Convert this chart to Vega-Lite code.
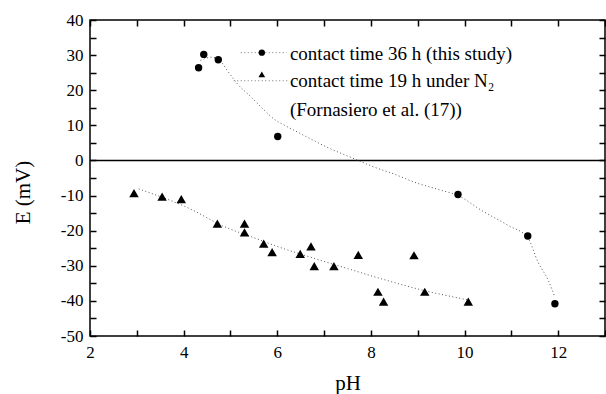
{
  "$schema": "https://vega.github.io/schema/vega-lite/v6.json",
  "width": 515,
  "height": 316,
  "autosize": {"type": "none"},
  "padding": {"left": 90, "top": 20, "right": 1, "bottom": 58},
  "background": "white",
  "config": {
    "view": {"stroke": "black", "strokeWidth": 1.5},
    "font": "Times New Roman",
    "axis": {
      "grid": false,
      "labelFont": "Times New Roman",
      "titleFont": "Times New Roman",
      "labelColor": "black",
      "titleColor": "black",
      "tickColor": "black",
      "tickWidth": 1.5,
      "domainColor": "black",
      "titleFontWeight": "normal"
    }
  },
  "datasets": {
    "zero": [{"E": 0}],
    "circles": [
      {"pH": 4.32, "E": 26.4},
      {"pH": 4.43, "E": 30.2},
      {"pH": 4.74, "E": 28.7},
      {"pH": 6.01, "E": 6.8},
      {"pH": 9.86, "E": -9.7},
      {"pH": 11.35, "E": -21.5},
      {"pH": 11.93, "E": -40.8}
    ],
    "triangles": [
      {"pH": 2.94, "E": -9.3},
      {"pH": 3.54, "E": -10.3},
      {"pH": 3.95, "E": -11.0},
      {"pH": 4.72, "E": -18.0},
      {"pH": 5.3, "E": -18.0},
      {"pH": 5.3, "E": -20.5},
      {"pH": 5.71, "E": -23.7},
      {"pH": 5.89, "E": -26.1},
      {"pH": 6.49, "E": -26.6},
      {"pH": 6.72, "E": -24.5},
      {"pH": 6.79, "E": -30.1},
      {"pH": 7.21, "E": -30.1},
      {"pH": 7.73, "E": -26.9},
      {"pH": 8.15, "E": -37.4},
      {"pH": 8.27, "E": -40.2},
      {"pH": 8.92, "E": -27.0},
      {"pH": 9.15, "E": -37.4},
      {"pH": 10.08, "E": -40.2}
    ],
    "fitC": [
      {"pH": 4.36, "E": 28.5},
      {"pH": 4.6, "E": 29.4},
      {"pH": 4.78, "E": 28.4},
      {"pH": 4.95, "E": 25.3},
      {"pH": 5.15, "E": 21.8},
      {"pH": 5.43, "E": 18.2},
      {"pH": 5.7, "E": 14.6},
      {"pH": 5.93, "E": 11.8},
      {"pH": 6.2, "E": 9.7},
      {"pH": 6.43, "E": 8.1},
      {"pH": 7.14, "E": 3.3},
      {"pH": 7.64, "E": 0.5},
      {"pH": 8.07, "E": -1.9},
      {"pH": 8.5, "E": -3.9},
      {"pH": 8.93, "E": -6.2},
      {"pH": 9.5, "E": -8.5},
      {"pH": 9.86, "E": -10.0},
      {"pH": 10.36, "E": -14.2},
      {"pH": 10.93, "E": -18.5},
      {"pH": 11.35, "E": -22.0},
      {"pH": 11.57, "E": -29.0},
      {"pH": 11.79, "E": -34.2},
      {"pH": 11.93, "E": -39.0}
    ],
    "fitT": [
      {"pH": 3.04, "E": -8.1},
      {"pH": 4.14, "E": -13.8},
      {"pH": 4.86, "E": -18.8},
      {"pH": 5.5, "E": -22.0},
      {"pH": 6.0, "E": -24.5},
      {"pH": 6.72, "E": -27.6},
      {"pH": 7.43, "E": -30.5},
      {"pH": 8.22, "E": -33.7},
      {"pH": 9.0, "E": -36.6},
      {"pH": 10.07, "E": -39.7}
    ],
    "legText": [
      {"label": "contact time 36 h (this study)", "pH": 6.27, "E": 30.4},
      {"label": "contact time 19 h under N₂", "pH": 6.27, "E": 22.5},
      {"label": "(Fornasiero et al. (17))", "pH": 6.27, "E": 14.4}
    ],
    "legLines": [
      {"a": 5.22, "b": 6.2, "E": 30.7},
      {"a": 5.07, "b": 6.22, "E": 22.7}
    ],
    "legC": [{"pH": 5.67, "E": 30.7}],
    "legT": [{"pH": 5.67, "E": 24.5}]
  },
  "resolve": {"axis": {"x": "independent", "y": "independent"}},
  "layer": [
    {
      "data": {"name": "zero"},
      "mark": {"type": "rule", "color": "black", "strokeWidth": 1.5},
      "encoding": {
        "y": {"field": "E", "type": "quantitative", "scale": {"domain": [-50, 40], "nice": false, "zero": false}, "axis": null}
      }
    },
    {
      "data": {"name": "fitT"},
      "mark": {"type": "line", "color": "#555", "strokeWidth": 1, "strokeDash": [1, 2.5], "interpolate": "monotone"},
      "encoding": {
        "x": {"field": "pH", "type": "quantitative", "scale": {"domain": [2, 13], "nice": false, "zero": false},
          "axis": {"orient": "bottom", "values": [2, 3, 4, 5, 6, 7, 8, 9, 10, 11, 12, 13], "ticks": true, "tickSize": -6, "domain": false, "labelPadding": 14, "labelFontSize": 17, "labelFlush": false, "labelOverlap": false, "labelExpr": "datum.value % 2 == 0 && datum.value < 13 ? toString(datum.value) : ''", "title": "pH", "titleFontSize": 21, "titleY": 47, "titleBaseline": "middle"}},
        "y": {"field": "E", "type": "quantitative", "scale": {"domain": [-50, 40], "nice": false, "zero": false},
          "axis": {"orient": "left", "values": [-50, -45, -40, -35, -30, -25, -20, -15, -10, -5, 0, 5, 10, 15, 20, 25, 30, 35, 40], "ticks": true, "tickSize": -6, "domain": false, "labelPadding": 13, "labelFontSize": 17, "labelFlush": false, "labelOverlap": false, "labelExpr": "datum.value % 10 == 0 ? toString(datum.value) : ''", "title": "E (mV)", "titleFontSize": 21, "titleAngle": -90, "titleX": -67, "titleY": 172, "titleBaseline": "middle", "titleAlign": "center"}}
      }
    },
    {
      "data": {"name": "fitC"},
      "mark": {"type": "line", "color": "#555", "strokeWidth": 1, "strokeDash": [1, 2.5], "interpolate": "monotone"},
      "encoding": {
        "x": {"field": "pH", "type": "quantitative", "axis": null},
        "y": {"field": "E", "type": "quantitative", "axis": null}
      }
    },
    {
      "data": {"name": "circles"},
      "mark": {"type": "point", "shape": "circle", "filled": true, "color": "black", "size": 55, "opacity": 1},
      "encoding": {
        "x": {"field": "pH", "type": "quantitative", "axis": {"orient": "top", "values": [2, 3, 4, 5, 6, 7, 8, 9, 10, 11, 12, 13], "ticks": true, "tickSize": -6, "labels": false, "domain": false, "title": null}},
        "y": {"field": "E", "type": "quantitative", "axis": {"orient": "right", "values": [-50, -45, -40, -35, -30, -25, -20, -15, -10, -5, 0, 5, 10, 15, 20, 25, 30, 35, 40], "ticks": true, "tickSize": -6, "labels": false, "domain": false, "title": null}}
      }
    },
    {
      "data": {"name": "triangles"},
      "mark": {"type": "point", "shape": "triangle-up", "filled": true, "color": "black", "size": 90, "opacity": 1},
      "encoding": {
        "x": {"field": "pH", "type": "quantitative", "axis": null},
        "y": {"field": "E", "type": "quantitative", "axis": null}
      }
    },
    {
      "data": {"name": "legLines"},
      "mark": {"type": "rule", "color": "#777", "strokeWidth": 1, "strokeDash": [1, 2.5]},
      "encoding": {
        "x": {"field": "a", "type": "quantitative", "axis": null},
        "x2": {"field": "b"},
        "y": {"field": "E", "type": "quantitative", "axis": null}
      }
    },
    {
      "data": {"name": "legC"},
      "mark": {"type": "point", "shape": "circle", "filled": true, "color": "black", "size": 40, "opacity": 1},
      "encoding": {
        "x": {"field": "pH", "type": "quantitative", "axis": null},
        "y": {"field": "E", "type": "quantitative", "axis": null}
      }
    },
    {
      "data": {"name": "legT"},
      "mark": {"type": "point", "shape": "triangle-up", "filled": true, "color": "black", "size": 45, "opacity": 1},
      "encoding": {
        "x": {"field": "pH", "type": "quantitative", "axis": null},
        "y": {"field": "E", "type": "quantitative", "axis": null}
      }
    },
    {
      "data": {"name": "legText"},
      "mark": {"type": "text", "align": "left", "baseline": "middle", "font": "Times New Roman", "fontSize": 19, "color": "black"},
      "encoding": {
        "x": {"field": "pH", "type": "quantitative", "axis": null},
        "y": {"field": "E", "type": "quantitative", "axis": null},
        "text": {"field": "label"}
      }
    }
  ]
}
